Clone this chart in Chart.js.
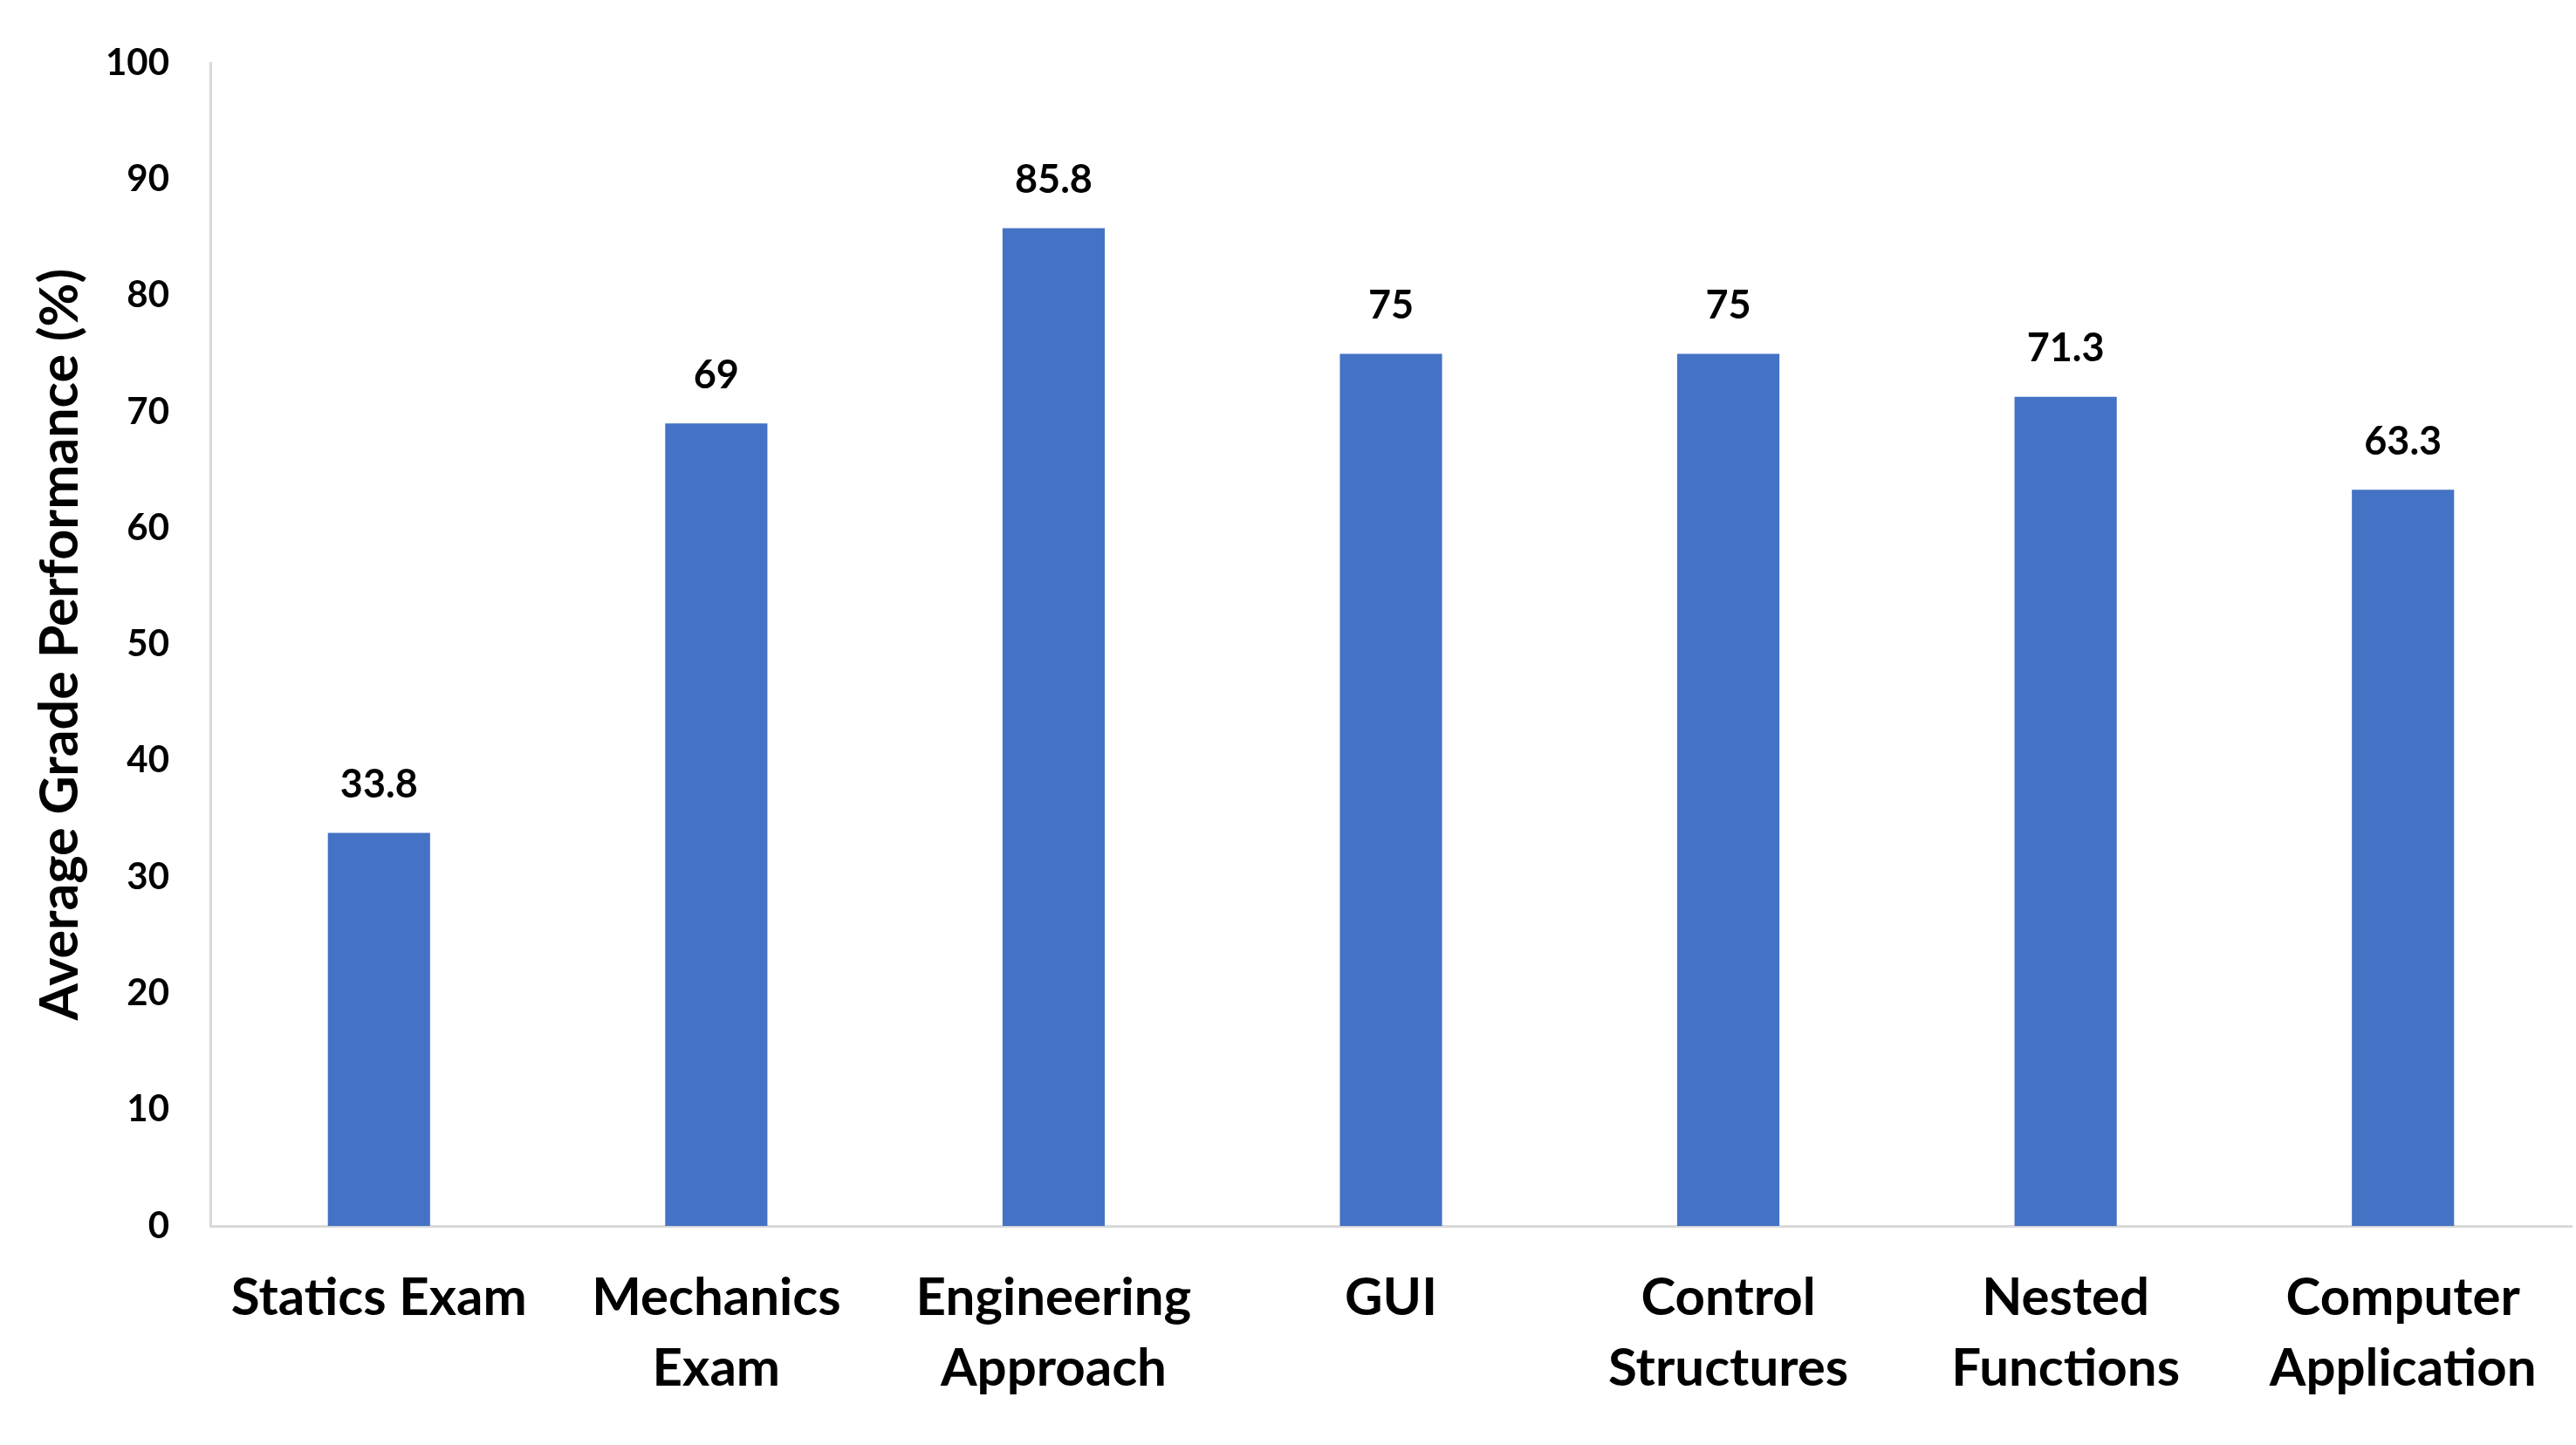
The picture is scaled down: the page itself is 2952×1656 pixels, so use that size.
<!DOCTYPE html>
<html>
<head>
<meta charset="utf-8">
<script src="https://cdn.jsdelivr.net/npm/chart.js@4"></script>
<style>
html,body{margin:0;padding:0;background:#fff;}
#wrap{width:2952px;height:1656px;}
</style>
</head>
<body>
<div id="wrap"><canvas id="c" width="2952" height="1656"></canvas></div>
<script>
const categories = [
  "Statics Exam",
  ["Mechanics", "Exam"],
  ["Engineering", "Approach"],
  "GUI",
  ["Control", "Structures"],
  ["Nested", "Functions"],
  ["Computer", "Application"]
];
const gradeValues = [33.8, 69, 85.8, 75, 75, 71.3, 63.3];
const valueLabels = ["33.8", "69", "85.8", "75", "75", "71.3", "63.3"];
const yTicks = [0, 10, 20, 30, 40, 50, 60, 70, 80, 90, 100];
const yAxisTitle = "Average Grade Performance (%)";

const FONT = "Lato, 'Open Sans', 'Noto Sans', sans-serif";

const valueLabelPlugin = {
  id: 'valueLabels',
  afterDatasetsDraw(chart) {
    const ctx = chart.ctx;
    const meta = chart.getDatasetMeta(0);
    ctx.save();
    ctx.font = "bold 45px " + FONT;
    ctx.fillStyle = "#000000";
    ctx.textAlign = "center";
    ctx.textBaseline = "middle";
    meta.data.forEach((bar, i) => {
      ctx.fillText(valueLabels[i], bar.x, bar.y - 55);
    });
    ctx.restore();
  }
};

new Chart(document.getElementById('c'), {
  type: 'bar',
  data: {
    labels: categories,
    datasets: [{
      data: gradeValues,
      backgroundColor: '#4472C4',
      borderWidth: 0,
      categoryPercentage: 1.0,
      barPercentage: 0.303
    }]
  },
  options: {
    responsive: false,
    animation: false,
    devicePixelRatio: 1,
    layout: { padding: { left: 0, right: 5, top: 72, bottom: 0 } },
    plugins: {
      legend: { display: false },
      tooltip: { enabled: false }
    },
    scales: {
      x: {
        grid: { display: false, drawTicks: false },
        border: { display: true, color: '#D9D9D9', width: 3 },
        ticks: {
          color: '#000000',
          font: { family: FONT, size: 60, weight: 'bold', lineHeight: 1.35 },
          padding: 42,
          maxRotation: 0,
          autoSkip: false
        },
        afterFit(scale) { scale.height = 251; }
      },
      y: {
        min: 0,
        max: 100,
        afterBuildTicks(scale) { scale.ticks = yTicks.map(v => ({ value: v })); },
        grid: { display: false, drawTicks: false },
        border: { display: true, color: '#D9D9D9', width: 3 },
        ticks: {
          color: '#000000',
          font: { family: FONT, size: 42, weight: 'bold' },
          padding: 47
        },
        title: {
          display: true,
          text: yAxisTitle,
          color: '#000000',
          font: { family: FONT, size: 61, weight: 'bold', lineHeight: 1.2 },
          padding: { top: 33, bottom: 0 }
        },
        afterFit(scale) { scale.width = 241; }
      }
    }
  },
  plugins: [valueLabelPlugin]
});
</script>
</body>
</html>
